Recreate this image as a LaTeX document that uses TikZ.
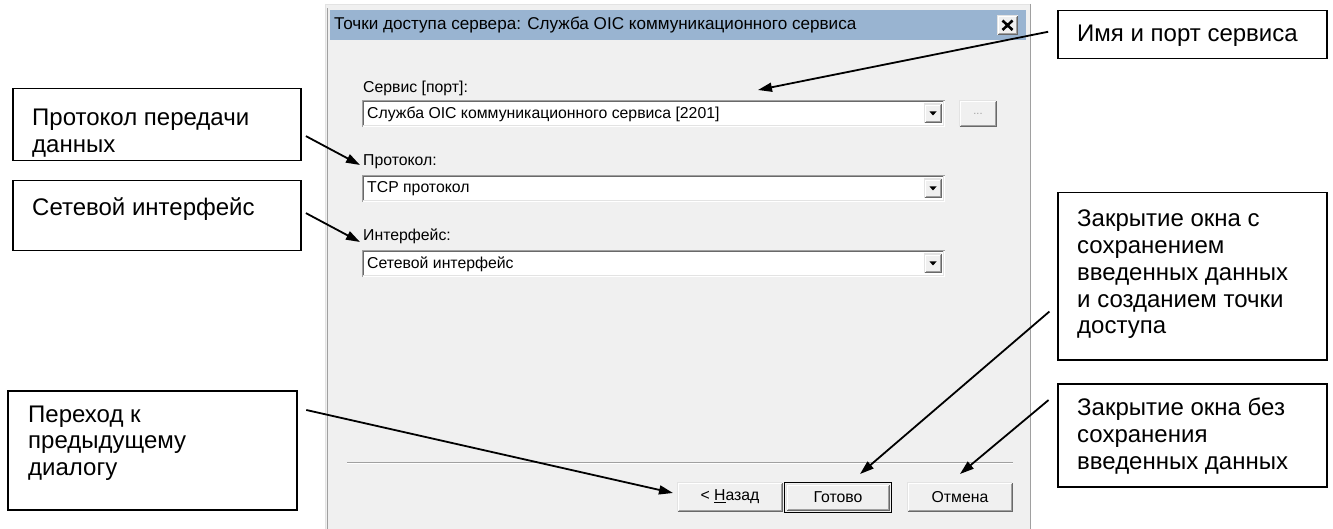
\documentclass[tikz,border=0pt]{standalone}
\usepackage{fontspec}
\setmainfont{Liberation Sans}
\usetikzlibrary{arrows.meta,calc}
\definecolor{dlgbg}{HTML}{F0F0F0}
\definecolor{titlebg}{RGB}{153,180,209}
\definecolor{frm}{HTML}{A0A0A0}
\definecolor{shdw}{HTML}{696969}
\definecolor{lightb}{HTML}{E3E3E3}
\newcommand{\rbtn}[4]{%
  \fill[dlgbg] (#1,#2) rectangle (#3,#4);
  \draw[lightb, line width=1.2pt] (#1+.6,#4-.6) -- (#1+.6,#2+.6) -- (#3-.6,#2+.6);
  \draw[shdw, line width=1.2pt] (#1+.6,#4-.6) -- (#3-.6,#4-.6) -- (#3-.6,#2+.6);
  \draw[white, line width=1.2pt] (#1+1.8,#4-1.8) -- (#1+1.8,#2+1.8) -- (#3-1.8,#2+1.8);
  \draw[frm, line width=1.2pt] (#1+1.8,#4-1.8) -- (#3-1.8,#4-1.8) -- (#3-1.8,#2+1.8);
}
\newcommand{\cmbbox}[4]{%
  \fill[white] (#1,#2) rectangle (#3,#4);
  \draw[frm, line width=1.2pt] (#1+.6,#4) -- (#1+.6,#2+.6) -- (#3,#2+.6);
  \draw[shdw, line width=1.2pt] (#1+1.8,#4-1.2) -- (#1+1.8,#2+1.8) -- (#3-1.2,#2+1.8);
  \draw[lightb, line width=1.2pt] (#1+1.2,#4-1.8) -- (#3-1.8,#4-1.8) -- (#3-1.8,#2+1.2);
  \rbtn{#3-21}{#2+3.5}{#3-3}{#4-3.5}
  \fill[black] (#3-15.5,{(#2+#4)/2-2}) -- (#3-8.5,{(#2+#4)/2-2}) -- (#3-12,{(#2+#4)/2+2}) -- cycle;
}
\begin{document}
\begin{tikzpicture}[x=1pt,y=-1pt,
  callbox/.style={draw=black, line width=1.5pt, fill=white, anchor=north west, inner sep=0pt},
  calltext/.style={anchor=north west, inner sep=0pt, align=left, font=\fontsize{24}{26.7}\selectfont},
  dlgtext/.style={anchor=west, inner sep=0pt, font=\fontsize{15.8}{18}\selectfont},
  btntext/.style={inner sep=0pt, font=\fontsize{15.8}{18}\selectfont},
  arr/.style={-{Triangle[length=14pt,width=9pt]}, line width=1.8pt, black},
]
\useasboundingbox (0,0) rectangle (1333,529);
\fill[white] (0,0) rectangle (1333,529);

% ---- dialog window ----
\fill[dlgbg] (325,4) rectangle (1031,529);
\draw[lightb, line width=1.2pt] (325.6,529) -- (325.6,4.6) -- (1030,4.6);
\draw[frm, line width=1.5pt] (1030.5,4) -- (1030.5,529);
\draw[frm, line width=1pt] (327,529) -- (327,8);
\fill[titlebg] (330,10) rectangle (1026,40);
\node[anchor=west, inner sep=0pt, font=\fontsize{17.1}{20}\selectfont] (title) at (334,25)
  {Точки доступа сервера: Служба OIC коммуникационного сервиса};
\rbtn{997}{15}{1018}{35}
\draw[line width=2.6pt] (1002.5,20.5) -- (1012.5,30) (1012.5,20.5) -- (1002.5,30);

% fields
\node[dlgtext] (lserv) at (363,88) {Сервис [порт]:};
\cmbbox{362}{100}{945}{127}
\node[dlgtext] (vserv) at (367,114) {Служба OIC коммуникационного сервиса [2201]};
\rbtn{959}{100}{997}{127}
\node[btntext, text=frm, font=\fontsize{11}{11}\selectfont] (dots) at (978,114) {...};

\node[dlgtext] (lprot) at (363,162) {Протокол:};
\cmbbox{362}{175}{945}{202}
\node[dlgtext] (vprot) at (367,189) {TCP протокол};

\node[dlgtext] (lint) at (363,236) {Интерфейс:};
\cmbbox{362}{250}{945}{277}
\node[dlgtext] (vint) at (367,264) {Сетевой интерфейс};

% separator
\draw[frm, line width=1pt] (347,462) -- (1013,462);
\draw[white, line width=1pt] (347,463.2) -- (1013,463.2);

% buttons
\rbtn{677}{482}{783}{512}
\node[btntext] (back) at (730,497) {< \underline{Н}азад};
\draw[black, line width=1.2pt] (784.6,482.6) rectangle (891.4,512.4);
\rbtn{786}{484}{890}{511}
\node[btntext] (done) at (838,497) {Готово};
\rbtn{907}{482}{1013}{512}
\node[btntext] (cancel) at (960,497) {Отмена};

% ---- callouts ----
\node[callbox, minimum width=269pt, minimum height=48pt] (A) at (1057,10) {};
\node[calltext] (At) at (1077,25) {Имя и порт сервиса};

\node[callbox, minimum width=288pt, minimum height=72pt] (B) at (12,88) {};
\node[calltext] (Bt) at (32,109) {Протокол передачи\\данных};

\node[callbox, minimum width=288pt, minimum height=70pt] (D) at (12,180) {};
\node[calltext] (Dt) at (32,197) {Сетевой интерфейс};

\node[callbox, minimum width=289pt, minimum height=119pt] (C) at (7,390) {};
\node[calltext] (Ct) at (28,405.5) {Переход к\\предыдущему\\диалогу};

\node[callbox, minimum width=269pt, minimum height=167pt] (E) at (1057,192) {};
\node[calltext] (Et) at (1077,210) {Закрытие окна с\\сохранением\\введенных данных\\и созданием точки\\доступа};

\node[callbox, minimum width=269pt, minimum height=103pt] (F) at (1057,383) {};
\node[calltext] (Ft) at (1077,398) {Закрытие окна без\\сохранения\\введенных данных};

% arrow targets
\coordinate (tipA) at (758,90);
\coordinate (tipB) at (360,165);
\coordinate (tipD) at (360,242);
\coordinate (tipC) at (673,493);
\coordinate (tipE) at (860,474);
\coordinate (tipF) at (960,474);

\draw[arr, shorten <=9pt] ([yshift=-20pt]A.north west) -- (tipA);
\draw[arr, shorten <=5pt] ([yshift=-9pt]B.east) -- (tipB);
\draw[arr, shorten <=5pt] ([yshift=5pt]D.east) -- (tipD);
\draw[arr, shorten <=9pt] ([yshift=-18pt]C.north east) -- (tipC);
\draw[arr, shorten <=10pt] ([yshift=-113pt]E.north west) -- (tipE);
\draw[arr, shorten <=11pt] ([yshift=-10pt]F.north west) -- (tipF);
\end{tikzpicture}
\end{document}
